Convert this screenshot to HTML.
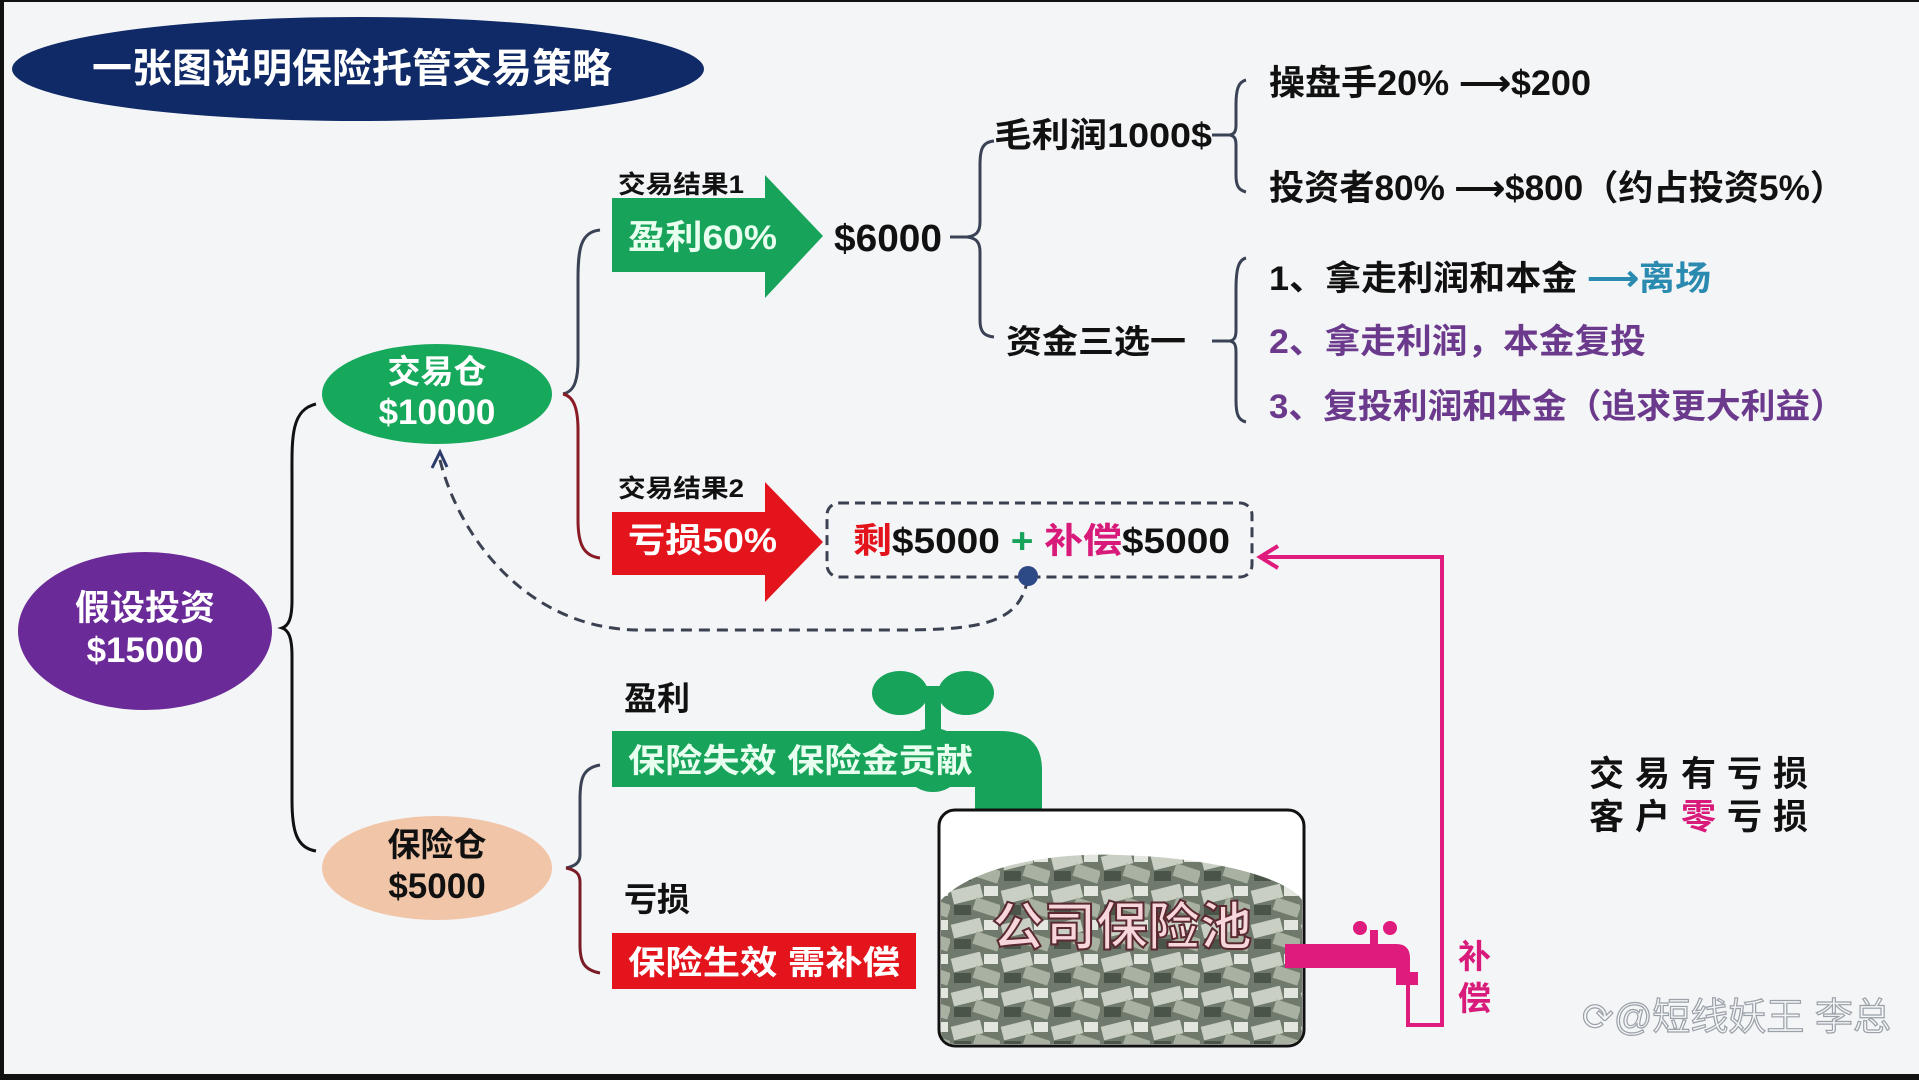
<!DOCTYPE html>
<html><head><meta charset="utf-8"><style>
html,body{margin:0;padding:0;background:#111;}
svg{display:block;}
text{font-family:"Liberation Sans","Noto Sans CJK SC",sans-serif;font-weight:bold;}
</style></head><body>
<svg width="1919" height="1080" viewBox="0 0 1919 1080" xmlns="http://www.w3.org/2000/svg">
<defs>
<pattern id="money" width="50" height="34" patternUnits="userSpaceOnUse">
<rect width="50" height="34" fill="#6f7a6c"/>
<rect x="2" y="3" width="30" height="14" fill="#c9cfc3" transform="rotate(-14 17 10)"/>
<rect x="24" y="17" width="26" height="13" fill="#a9b2a2" transform="rotate(18 37 23)"/>
<rect x="4" y="21" width="17" height="10" fill="#4a5448"/>
<rect x="34" y="2" width="14" height="10" fill="#e3e6de"/>
</pattern>
</defs>
<rect x="4" y="2" width="1915" height="1072" fill="#f4f5f7"/>
<!-- title -->
<ellipse cx="358" cy="69" rx="346" ry="52" fill="#0f2a66"/>
<text x="92" y="82" font-size="40" fill="#fff" textLength="520" lengthAdjust="spacingAndGlyphs">一张图说明保险托管交易策略</text>
<!-- main brace -->
<path d="M316,404 C290,410 292,440 292,480 L292,600 C292,620 288,626 282,628 C288,630 292,636 292,656 L292,800 C292,830 296,848 316,851" fill="none" stroke="#111" stroke-width="3"/>
<!-- purple -->
<ellipse cx="145" cy="631" rx="127" ry="79" fill="#6a2a98"/>
<text x="145" y="620" font-size="35" fill="#fff" text-anchor="middle">假设投资</text>
<text x="145" y="662" font-size="35" fill="#fff" text-anchor="middle">$15000</text>
<!-- green node -->
<ellipse cx="437" cy="394" rx="115" ry="50" fill="#16a85b"/>
<text x="437" y="383" font-size="33" fill="#fff" text-anchor="middle">交易仓</text>
<text x="437" y="424" font-size="35" fill="#fff" text-anchor="middle">$10000</text>
<!-- peach node -->
<ellipse cx="437" cy="868" rx="115" ry="52" fill="#f1c5a8"/>
<text x="437" y="856" font-size="33" fill="#111" text-anchor="middle">保险仓</text>
<text x="437" y="898" font-size="35" fill="#111" text-anchor="middle">$5000</text>
<!-- brace from green -->
<path d="M600,230 C580,232 578,250 578,280 L578,360 C578,385 572,392 563,394" fill="none" stroke="#3a4256" stroke-width="3"/>
<path d="M563,394 C572,396 578,405 578,430 L578,520 C578,545 584,556 600,558" fill="none" stroke="#8a1c25" stroke-width="3"/>
<!-- green arrow -->
<text x="618" y="193" font-size="25" fill="#111" textLength="126" lengthAdjust="spacingAndGlyphs">交易结果1</text>
<polygon points="612,198 765,198 765,175 823,236 765,298 765,272 612,272" fill="#17a35a"/>
<text x="628" y="249" font-size="34" fill="#e8fff0" textLength="149" lengthAdjust="spacingAndGlyphs">盈利60%</text>
<text x="834" y="251" font-size="38" fill="#111" textLength="108" lengthAdjust="spacingAndGlyphs">$6000</text>
<!-- red arrow -->
<text x="618" y="497" font-size="25" fill="#111" textLength="126" lengthAdjust="spacingAndGlyphs">交易结果2</text>
<polygon points="612,512 765,512 765,482 823,542 765,602 765,575 612,575" fill="#e3141c"/>
<text x="628" y="552" font-size="34" fill="#fff" textLength="149" lengthAdjust="spacingAndGlyphs">亏损50%</text>
<!-- dashed box -->
<rect x="827" y="503" width="425" height="74" rx="12" fill="none" stroke="#3b4150" stroke-width="3" stroke-dasharray="10,6"/>
<text x="853" y="553" font-size="35" textLength="377" lengthAdjust="spacingAndGlyphs"><tspan fill="#e3141c">剩</tspan><tspan fill="#111">$5000 </tspan><tspan fill="#17a35a">+ </tspan><tspan fill="#d81b7a">补偿</tspan><tspan fill="#111">$5000</tspan></text>
<path d="M1028,578 C1020,620 990,630 900,630 L640,630 C530,630 460,540 440,460" fill="none" stroke="#3b4150" stroke-width="3" stroke-dasharray="11,7"/>
<path d="M432,468 L440,452 L447,467" fill="none" stroke="#2a3a6a" stroke-width="3"/>
<circle cx="1028" cy="576" r="10" fill="#2e4a86"/>
<!-- $6000 brace -->
<path d="M950,237 L967,237 M994,141 C982,142 980,150 980,165 L980,222 C980,232 976,236 967,237 C976,238 980,242 980,252 L980,320 C980,332 984,336 994,337" fill="none" stroke="#3a4256" stroke-width="3"/>
<text x="994" y="147" font-size="34" fill="#111" textLength="218" lengthAdjust="spacingAndGlyphs">毛利润1000$</text>
<text x="1006" y="353" font-size="33" fill="#111" textLength="180" lengthAdjust="spacingAndGlyphs">资金三选一</text>
<path d="M1212,135 L1232,135 M1246,80 C1238,82 1236,90 1236,105 L1236,125 C1236,132 1234,134 1230,135 C1234,136 1236,138 1236,145 L1236,175 C1236,185 1238,190 1246,192" fill="none" stroke="#3a4256" stroke-width="3"/>
<text x="1269" y="95" font-size="35" fill="#111" textLength="322" lengthAdjust="spacingAndGlyphs">操盘手20% ⟶$200</text>
<text x="1269" y="200" font-size="35" fill="#111" textLength="576" lengthAdjust="spacingAndGlyphs">投资者80% ⟶$800（约占投资5%）</text>
<path d="M1212,341 L1232,341 M1246,258 C1238,260 1236,270 1236,290 L1236,330 C1236,338 1234,340 1230,341 C1234,342 1236,344 1236,352 L1236,400 C1236,414 1238,420 1246,422" fill="none" stroke="#3a4256" stroke-width="3"/>
<text x="1269" y="290" font-size="34" fill="#111" textLength="442" lengthAdjust="spacingAndGlyphs">1、拿走利润和本金 <tspan fill="#2a8ab0">⟶离场</tspan></text>
<text x="1269" y="353" font-size="34" fill="#6b3a8c" textLength="377" lengthAdjust="spacingAndGlyphs">2、拿走利润，本金复投</text>
<text x="1269" y="418" font-size="34" fill="#6b3a8c" textLength="576" lengthAdjust="spacingAndGlyphs">3、复投利润和本金（追求更大利益）</text>
<!-- insurance brace -->
<path d="M600,765 C582,768 580,780 580,800 L580,855 C580,862 576,866 566,868" fill="none" stroke="#3a4256" stroke-width="3"/>
<path d="M566,868 C576,870 580,874 580,882 L580,945 C580,962 584,970 600,973" fill="none" stroke="#7a1c25" stroke-width="3"/>
<text x="624" y="710" font-size="33" fill="#111">盈利</text>
<text x="624" y="911" font-size="33" fill="#111">亏损</text>
<!-- green faucet -->
<ellipse cx="900" cy="693" rx="28" ry="22" fill="#17a35a"/><ellipse cx="966" cy="693" rx="28" ry="22" fill="#17a35a"/>
<rect x="900" y="686" width="66" height="12" fill="#17a35a"/>
<rect x="925" y="693" width="16" height="40" fill="#17a35a"/>
<circle cx="933" cy="760" r="32" fill="#17a35a"/>
<path d="M612,731 L1000,731 Q1042,731 1042,770 L1042,825 L1054,825 Q1056,845 1046,845 L970,845 Q962,845 966,825 L975,825 L975,787 L612,787 Z" fill="#17a35a"/>
<text x="628" y="772" font-size="33" fill="#e8fff0" textLength="345" lengthAdjust="spacingAndGlyphs">保险失效 保险金贡献</text>
<!-- red bar -->
<rect x="612" y="933" width="304" height="56" fill="#e3141c"/>
<text x="628" y="974" font-size="33" fill="#fff" textLength="272" lengthAdjust="spacingAndGlyphs">保险生效 需补偿</text>
<!-- pool -->
<rect x="939" y="810" width="365" height="236" rx="16" fill="#fff" stroke="#111" stroke-width="3"/>
<path d="M941,900 C970,870 1040,852 1120,855 C1220,858 1290,880 1302,900 L1302,1030 Q1302,1044 1288,1044 L955,1044 Q941,1044 941,1030 Z" fill="url(#money)"/>
<text x="1122" y="945" font-size="52" fill="#f7d6dc" stroke="#5a2a30" stroke-width="2" text-anchor="middle" style="font-weight:bold">公司保险池</text>
<!-- pink faucet + line -->
<circle cx="1360" cy="928" r="7" fill="#e01b7e"/><circle cx="1390" cy="928" r="7" fill="#e01b7e"/>
<rect x="1370" y="930" width="8" height="18" fill="#e01b7e"/>
<path d="M1285,944 L1396,944 Q1410,944 1410,958 L1410,972 L1418,972 L1418,985 L1396,985 L1396,968 L1285,968 Z" fill="#e01b7e"/>
<path d="M1408,985 L1408,1025 L1442,1025 L1442,557 L1262,557" fill="none" stroke="#e01b7e" stroke-width="4"/>
<path d="M1278,546 L1260,557 L1278,568" fill="none" stroke="#e01b7e" stroke-width="4"/>
<text x="1458" y="968" font-size="33" fill="#d81b7a">补</text>
<text x="1458" y="1010" font-size="33" fill="#d81b7a">偿</text>
<!-- right text -->
<text x="1589" y="786" font-size="35" fill="#111" letter-spacing="11">交易有亏损</text>
<text x="1589" y="829" font-size="35" fill="#111" letter-spacing="11">客户<tspan fill="#d81b7a">零</tspan>亏损</text>
<text x="1582" y="1030" font-size="38" fill="#f4f5f7" stroke="#9aa0a8" stroke-width="1.2" style="font-weight:normal">⟳@短线妖王 李总</text>
</svg>
</body></html>
